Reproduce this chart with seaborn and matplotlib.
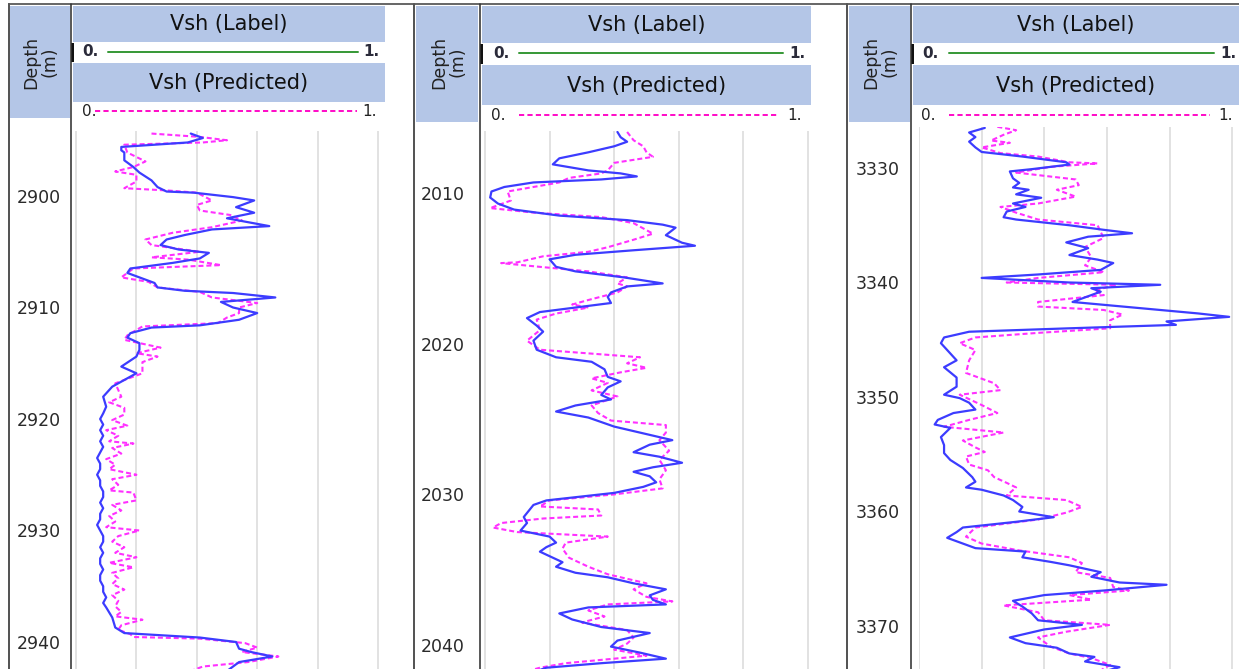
import numpy as np
import pandas as pd
import matplotlib
matplotlib.use("Agg")
import matplotlib.pyplot as plt
import seaborn as sns
from matplotlib.patches import Rectangle

# ---------------- data ----------------
header_label = "Vsh (Label)"
header_pred = "Vsh (Predicted)"
depth_header = "Depth\n(m)"
scale_min_text = "0."
scale_max_text = "1."
grid_values = [0.0, 0.2, 0.4, 0.6, 0.8, 1.0]

well1_ticks = [2900, 2910, 2920, 2930, 2940]
well2_ticks = [2010, 2020, 2030, 2040]
well3_ticks = [3330, 3340, 3350, 3360, 3370]

well1_label_depth = [
    2894.4, 2894.8, 2895.2, 2895.6, 2895.9, 2896.1, 2896.8, 2897.4, 2897.9, 2898.6,
    2899.2, 2899.6, 2899.7, 2900.1, 2900.4, 2901.0, 2901.5, 2902.0, 2902.3, 2902.7,
    2903.0, 2903.5, 2903.9, 2904.4, 2904.8, 2905.1, 2905.6, 2906.0, 2906.5, 2906.9,
    2907.4, 2907.8, 2908.2, 2908.5, 2908.7, 2909.1, 2909.5, 2910.0, 2910.5, 2911.1,
    2911.6, 2911.8, 2912.3, 2912.7, 2913.2, 2913.8, 2914.4, 2915.3, 2915.9, 2916.5,
    2917.1, 2917.4, 2918.0, 2918.9, 2919.5, 2920.0, 2920.5, 2921.0, 2921.5, 2922.0,
    2922.5, 2923.0, 2923.5, 2924.0, 2924.5, 2925.0, 2925.5, 2926.0, 2926.5, 2927.0,
    2927.5, 2928.0, 2928.5, 2929.0, 2929.5, 2930.0, 2930.5, 2931.0, 2931.5, 2932.0,
    2932.5, 2933.0, 2933.5, 2934.0, 2934.5, 2935.0, 2935.5, 2936.0, 2936.5, 2936.9,
    2937.8, 2938.7, 2939.2, 2939.6, 2940.0, 2940.6, 2940.9, 2941.3, 2941.8, 2942.2,
    2942.6]
well1_label_vsh = [
    0.38, 0.42, 0.37, 0.15, 0.15, 0.16, 0.16, 0.19, 0.21, 0.25,
    0.27, 0.30, 0.39, 0.52, 0.59, 0.53, 0.59, 0.50, 0.56, 0.64,
    0.45, 0.36, 0.30, 0.28, 0.34, 0.44, 0.41, 0.32, 0.18, 0.17,
    0.22, 0.26, 0.27, 0.36, 0.52, 0.66, 0.48, 0.52, 0.60, 0.54,
    0.41, 0.25, 0.18, 0.17, 0.21, 0.21, 0.20, 0.15, 0.20, 0.16,
    0.12, 0.11, 0.09, 0.10, 0.09, 0.08, 0.09, 0.08, 0.09, 0.08,
    0.09, 0.08, 0.07, 0.08, 0.08, 0.07, 0.08, 0.08, 0.09, 0.09,
    0.08, 0.09, 0.08, 0.08, 0.07, 0.08, 0.09, 0.09, 0.08, 0.09,
    0.08, 0.08, 0.09, 0.08, 0.08, 0.09, 0.09, 0.10, 0.09, 0.10,
    0.12, 0.13, 0.16, 0.41, 0.53, 0.54, 0.58, 0.65, 0.54, 0.52,
    0.50]

well1_pred_depth = [
    2894.4, 2894.7, 2895.0, 2895.2, 2895.4, 2896.1, 2896.9, 2897.4, 2897.8, 2898.1,
    2898.7, 2899.3, 2899.5, 2899.7, 2900.4, 2900.8, 2901.3, 2901.7, 2902.2, 2902.8,
    2903.3, 2903.9, 2904.4, 2905.0, 2905.5, 2905.7, 2906.2, 2906.5, 2907.3, 2907.7,
    2908.2, 2908.6, 2909.1, 2909.6, 2910.0, 2910.5, 2910.9, 2911.4, 2911.7, 2912.5,
    2912.9, 2913.6, 2914.1, 2914.4, 2914.9, 2915.9, 2916.8, 2918.0, 2918.5, 2919.0,
    2919.6, 2920.1, 2920.6, 2921.0, 2921.5, 2922.0, 2922.2, 2922.6, 2923.1, 2923.6,
    2924.1, 2924.5, 2925.0, 2925.4, 2925.9, 2926.4, 2926.6, 2927.3, 2927.7, 2928.2,
    2928.7, 2929.2, 2929.7, 2930.0, 2930.5, 2931.0, 2931.5, 2932.0, 2932.4, 2932.9,
    2933.3, 2933.8, 2934.3, 2934.8, 2935.3, 2935.8, 2936.3, 2936.8, 2937.3, 2937.7,
    2938.0, 2938.5, 2938.9, 2939.3, 2939.55, 2939.7, 2940.1, 2940.5, 2940.9, 2941.3,
    2941.8, 2942.2, 2942.6]
well1_pred_vsh = [
    0.25, 0.41, 0.50, 0.42, 0.16, 0.17, 0.23, 0.19, 0.13, 0.20,
    0.20, 0.16, 0.30, 0.40, 0.45, 0.40, 0.41, 0.51, 0.55, 0.45,
    0.32, 0.23, 0.25, 0.41, 0.25, 0.37, 0.48, 0.19, 0.15, 0.24,
    0.27, 0.41, 0.45, 0.60, 0.54, 0.54, 0.50, 0.47, 0.22, 0.17,
    0.16, 0.28, 0.20, 0.27, 0.22, 0.22, 0.13, 0.15, 0.11, 0.16,
    0.16, 0.12, 0.17, 0.10, 0.14, 0.11, 0.19, 0.12, 0.15, 0.10,
    0.13, 0.11, 0.20, 0.12, 0.14, 0.11, 0.19, 0.20, 0.12, 0.15,
    0.11, 0.13, 0.10, 0.21, 0.14, 0.12, 0.16, 0.13, 0.20, 0.11,
    0.19, 0.12, 0.14, 0.12, 0.16, 0.12, 0.14, 0.13, 0.15, 0.13,
    0.22, 0.15, 0.14, 0.18, 0.19, 0.41, 0.56, 0.60, 0.55, 0.67,
    0.57, 0.42, 0.38]

well2_label_depth = [
    2005.95, 2006.3, 2006.6, 2006.9, 2007.3, 2007.7, 2008.1, 2008.5, 2008.7, 2008.9,
    2009.1, 2009.3, 2009.6, 2009.9, 2010.3, 2010.7, 2011.1, 2011.5, 2011.8, 2012.1,
    2012.3, 2012.8, 2013.3, 2013.5, 2013.8, 2014.1, 2014.4, 2014.9, 2015.2, 2015.6,
    2016.0, 2016.2, 2016.6, 2016.9, 2017.3, 2017.6, 2017.9, 2018.3, 2018.8, 2019.2,
    2019.8, 2020.4, 2020.9, 2021.2, 2021.7, 2022.2, 2022.5, 2022.9, 2023.4, 2023.7,
    2024.1, 2024.5, 2024.9, 2025.5, 2025.9, 2026.4, 2026.7, 2027.2, 2027.5, 2027.9,
    2028.2, 2028.5, 2028.8, 2029.2, 2029.5, 2029.9, 2030.4, 2030.7, 2031.5, 2031.9,
    2032.4, 2032.8, 2033.2, 2033.5, 2033.8, 2034.2, 2034.5, 2034.8, 2035.2, 2035.5,
    2035.9, 2036.3, 2036.7, 2037.0, 2037.3, 2037.5, 2037.9, 2038.3, 2038.8, 2039.2,
    2039.7, 2040.1, 2040.5, 2040.9, 2041.2, 2041.5, 2041.8]
well2_label_vsh = [
    0.41, 0.42, 0.44, 0.40, 0.32, 0.23, 0.21, 0.32, 0.42, 0.47,
    0.36, 0.15, 0.06, 0.02, 0.016, 0.04, 0.09, 0.23, 0.44, 0.55,
    0.59, 0.56, 0.61, 0.65, 0.46, 0.28, 0.20, 0.22, 0.28, 0.43,
    0.55, 0.44, 0.39, 0.38, 0.39, 0.28, 0.17, 0.13, 0.16, 0.18,
    0.15, 0.16, 0.22, 0.33, 0.37, 0.38, 0.42, 0.38, 0.36, 0.39,
    0.28, 0.22, 0.32, 0.40, 0.48, 0.58, 0.51, 0.46, 0.54, 0.61,
    0.52, 0.46, 0.51, 0.53, 0.49, 0.40, 0.19, 0.15, 0.12, 0.13,
    0.11, 0.20, 0.22, 0.19, 0.17, 0.21, 0.24, 0.22, 0.28, 0.38,
    0.46, 0.56, 0.51, 0.52, 0.56, 0.32, 0.23, 0.27, 0.36, 0.51,
    0.41, 0.39, 0.48, 0.56, 0.36, 0.19, 0.15]

well2_pred_depth = [
    2005.95, 2006.5, 2006.9, 2007.3, 2007.6, 2007.8, 2008.0, 2008.5, 2008.7, 2009.0,
    2009.3, 2009.6, 2009.9, 2010.5, 2011.0, 2011.3, 2011.6, 2012.0, 2012.7, 2013.1,
    2013.6, 2013.9, 2014.2, 2014.6, 2014.65, 2014.9, 2015.2, 2015.6, 2016.0, 2016.2,
    2016.6, 2017.1, 2017.4, 2017.6, 2018.0, 2018.4, 2019.1, 2019.8, 2020.4, 2020.9,
    2021.3, 2021.6, 2021.9, 2022.3, 2022.6, 2023.1, 2023.5, 2024.1, 2024.6, 2025.1,
    2025.4, 2025.9, 2026.4, 2027.1, 2027.7, 2028.4, 2029.0, 2029.6, 2030.0, 2030.4,
    2030.8, 2031.0, 2031.4, 2031.6, 2031.9, 2032.2, 2032.5, 2032.8, 2033.2, 2033.6,
    2034.2, 2034.8, 2035.3, 2035.9, 2036.3, 2036.8, 2037.1, 2037.3, 2037.7, 2038.1,
    2038.5, 2039.0, 2039.5, 2039.9, 2040.3, 2040.7, 2041.2, 2041.5, 2041.8]
well2_pred_vsh = [
    0.44, 0.46, 0.49, 0.50, 0.52, 0.46, 0.40, 0.38, 0.36, 0.26,
    0.23, 0.15, 0.07, 0.08, 0.016, 0.15, 0.36, 0.46, 0.52, 0.46,
    0.38, 0.32, 0.18, 0.10, 0.05, 0.17, 0.32, 0.44, 0.41, 0.44,
    0.41, 0.32, 0.27, 0.32, 0.22, 0.16, 0.17, 0.13, 0.17, 0.48,
    0.44, 0.50, 0.42, 0.33, 0.38, 0.33, 0.41, 0.33, 0.35, 0.39,
    0.56, 0.56, 0.54, 0.57, 0.54, 0.56, 0.54, 0.55, 0.40, 0.20,
    0.17, 0.35, 0.36, 0.18, 0.05, 0.025, 0.10, 0.38, 0.25, 0.24,
    0.26, 0.32, 0.38, 0.50, 0.46, 0.50, 0.58, 0.38, 0.32, 0.37,
    0.30, 0.44, 0.46, 0.44, 0.40, 0.50, 0.25, 0.17, 0.12]

well3_label_depth = [
    3326.5, 3326.9, 3327.3, 3327.7, 3328.2, 3328.6, 3329.0, 3329.5, 3329.7, 3330.1,
    3330.3, 3330.9, 3331.3, 3331.7, 3331.9, 3332.3, 3332.6, 3333.1, 3333.4, 3333.8,
    3334.3, 3334.5, 3335.0, 3335.4, 3335.7, 3336.0, 3336.5, 3337.0, 3337.6, 3338.0,
    3338.3, 3338.9, 3339.3, 3339.6, 3340.0, 3340.2, 3340.5, 3340.8, 3341.3, 3341.7,
    3342.2, 3342.7, 3343.0, 3343.4, 3343.7, 3344.0, 3344.3, 3344.8, 3345.3, 3345.9,
    3346.8, 3347.4, 3348.3, 3349.1, 3349.8, 3350.1, 3350.5, 3351.1, 3351.4, 3352.0,
    3352.4, 3352.7, 3353.5, 3354.2, 3354.9, 3355.5, 3356.2, 3357.0, 3357.4, 3357.9,
    3358.1, 3358.6, 3359.0, 3359.6, 3360.0, 3360.5, 3360.9, 3361.4, 3361.8, 3362.3,
    3362.8, 3363.2, 3363.5, 3364.0, 3364.4, 3364.7, 3365.3, 3365.7, 3366.2, 3366.4,
    3366.9, 3367.3, 3367.8, 3368.3, 3368.9, 3369.5, 3369.9, 3370.3, 3371.0, 3371.5,
    3371.9, 3372.4, 3372.7, 3373.1, 3373.6, 3373.9]
well3_label_vsh = [
    0.21, 0.16, 0.18, 0.16, 0.18, 0.20, 0.33, 0.47, 0.48, 0.36,
    0.29, 0.30, 0.32, 0.30, 0.35, 0.31, 0.39, 0.30, 0.34, 0.28,
    0.27, 0.31, 0.48, 0.59, 0.68, 0.54, 0.47, 0.54, 0.48, 0.57,
    0.62, 0.58, 0.38, 0.20, 0.48, 0.77, 0.55, 0.58, 0.53, 0.49,
    0.69, 0.89, 0.99, 0.79, 0.82, 0.48, 0.16, 0.08, 0.07, 0.09,
    0.12, 0.08, 0.12, 0.12, 0.08, 0.13, 0.16, 0.18, 0.11, 0.06,
    0.05, 0.10, 0.07, 0.08, 0.08, 0.10, 0.14, 0.17, 0.18, 0.15,
    0.20, 0.27, 0.30, 0.33, 0.32, 0.43, 0.31, 0.14, 0.12, 0.09,
    0.14, 0.18, 0.34, 0.33, 0.42, 0.48, 0.58, 0.55, 0.64, 0.79,
    0.59, 0.40, 0.30, 0.33, 0.36, 0.38, 0.52, 0.40, 0.29, 0.34,
    0.44, 0.48, 0.56, 0.53, 0.64, 0.60]

well3_pred_depth = [
    3326.4, 3326.7, 3327.1, 3327.6, 3327.8, 3328.2, 3328.7, 3329.0, 3329.5, 3329.6,
    3329.9, 3330.4, 3331.0, 3331.5, 3331.9, 3332.5, 3333.1, 3333.4, 3333.9, 3334.5,
    3335.0, 3335.6, 3336.1, 3336.9, 3337.8, 3338.5, 3339.1, 3339.6, 3340.0, 3340.2,
    3340.7, 3341.1, 3341.7, 3342.1, 3342.4, 3342.8, 3343.3, 3344.0, 3344.4, 3344.8,
    3345.3, 3345.9, 3346.8, 3347.9, 3348.8, 3349.4, 3349.8, 3350.7, 3351.4, 3352.0,
    3352.6, 3353.1, 3353.8, 3354.4, 3354.8, 3355.2, 3355.9, 3356.4, 3357.0, 3357.5,
    3357.9, 3358.6, 3359.0, 3359.6, 3360.1, 3360.7, 3361.4, 3362.2, 3362.8, 3363.4,
    3364.0, 3364.5, 3365.3, 3365.8, 3366.6, 3366.9, 3367.3, 3367.7, 3368.2, 3368.8,
    3369.5, 3369.9, 3370.5, 3371.0, 3371.8, 3372.4, 3372.8, 3373.4, 3373.7, 3373.9]
well3_pred_vsh = [
    0.25, 0.31, 0.27, 0.23, 0.29, 0.20, 0.26, 0.38, 0.48, 0.57,
    0.42, 0.31, 0.50, 0.51, 0.44, 0.50, 0.38, 0.26, 0.31, 0.38,
    0.57, 0.58, 0.59, 0.53, 0.55, 0.53, 0.59, 0.38, 0.28, 0.63,
    0.56, 0.59, 0.38, 0.38, 0.59, 0.65, 0.61, 0.61, 0.38, 0.18,
    0.13, 0.18, 0.16, 0.15, 0.24, 0.26, 0.13, 0.20, 0.25, 0.16,
    0.08, 0.27, 0.14, 0.18, 0.21, 0.15, 0.16, 0.22, 0.24, 0.28,
    0.31, 0.28, 0.47, 0.52, 0.47, 0.38, 0.18, 0.15, 0.20, 0.32,
    0.48, 0.52, 0.50, 0.61, 0.62, 0.67, 0.48, 0.55, 0.27, 0.38,
    0.40, 0.61, 0.47, 0.38, 0.42, 0.48, 0.55, 0.61, 0.59, 0.58]

# ---------------- style ----------------
sns.set_theme(style="white")
plt.rcParams["font.family"] = ["DejaVu Sans"]

W, H = 1239, 669
BOX = "#b4c6e7"
BLUE = "#3c3cff"
MAG_CURVE = "#ff30ff"
MAG_HEAD = "#ff10c8"
GREEN = "#3a9a3a"
GRID = "#dcdcdc"
TXT = "#222222"
PX = 0.72  # points per pixel

fig = plt.figure(figsize=(W / 100, H / 100), dpi=100)
fig.patch.set_facecolor("white")

ov = fig.add_axes([0, 0, 1, 1])
ov.set_xlim(0, W)
ov.set_ylim(H, 0)
ov.axis("off")


def fig_rect(x0, y0, x1, y1):
    return [x0 / W, 1 - y1 / H, (x1 - x0) / W, (y1 - y0) / H]


# top border line
ov.plot([8, W], [4, 4], color="#444444", lw=1.6 * PX, solid_capstyle="butt")

panels = [
    dict(border=8.5, sep=71, dbox=(9.5, 5.5, 69.5, 118), hx0=73, hx1=385,
         lab=(5.5, 42), pred=(63, 102), gy=52, gx=(108, 358), g0=82, g1=379,
         my=111, mx=(95, 357), m0=82, m1=377,
         track=(73, 131, 385, 669), v0px=76, vscale=302.0,
         dtop=(131, 196, 2900, 11.15),
         lab_pad=12,
         ld=well1_label_depth, lv=well1_label_vsh,
         pd_=well1_pred_depth, pv=well1_pred_vsh, ticks=well1_ticks),
    dict(border=414, sep=480, dbox=(416, 5.5, 478, 122), hx0=482, hx1=811,
         lab=(5.5, 43), pred=(65, 105), gy=53, gx=(519, 783), g0=493, g1=805,
         my=115, mx=(519, 779), m0=491, m1=802,
         track=(482, 131, 811, 669), v0px=485, vscale=323.0,
         dtop=(131, 193, 2010, 15.07),
         lab_pad=17,
         ld=well2_label_depth, lv=well2_label_vsh,
         pd_=well2_pred_depth, pv=well2_pred_vsh, ticks=well2_ticks),
    dict(border=847, sep=911, dbox=(849, 5.5, 910, 122), hx0=913, hx1=1239,
         lab=(5.5, 43), pred=(65, 105), gy=53, gx=(949, 1214), g0=922, g1=1236,
         my=115, mx=(949, 1210), m0=921, m1=1233,
         track=(919, 127, 1239, 669), v0px=904.5, vscale=327.5,
         dtop=(127, 168, 3330, 11.45),
         lab_pad=19,
         ld=well3_label_depth, lv=well3_label_vsh,
         pd_=well3_pred_depth, pv=well3_pred_vsh, ticks=well3_ticks),
]

for p in panels:
    # borders
    ov.plot([p["border"], p["border"]], [4, H], color="#555555", lw=2 * PX)
    ov.plot([p["sep"], p["sep"]], [4, H], color="#333333", lw=1.6 * PX)
    # depth header box
    x0, y0, x1, y1 = p["dbox"]
    ov.add_patch(Rectangle((x0, y0), x1 - x0, y1 - y0, color=BOX, lw=0))
    ov.text((x0 + x1) / 2 + 1, 62, depth_header, rotation=90, ha="center",
            va="center", fontsize=12.5, color=TXT, linespacing=1.0,
            multialignment="center")
    # header boxes
    hx0, hx1 = p["hx0"], p["hx1"]
    ly0, ly1 = p["lab"]
    ov.add_patch(Rectangle((hx0, ly0), hx1 - hx0, ly1 - ly0, color=BOX, lw=0))
    ov.text((hx0 + hx1) / 2, (ly0 + ly1) / 2 + 0.5, header_label, ha="center",
            va="center", fontsize=15, color="#111111")
    py0, py1 = p["pred"]
    ov.add_patch(Rectangle((hx0, py0), hx1 - hx0, py1 - py0, color=BOX, lw=0))
    ov.text((hx0 + hx1) / 2, (py0 + py1) / 2 + 1, header_pred, ha="center",
            va="center", fontsize=15, color="#111111")
    # black marker in label scale row
    ov.add_patch(Rectangle((p["sep"], ly1 + 1), 2.5, py0 - ly1 - 2,
                           color="#111111", lw=0))
    # label scale row
    ov.plot(list(p["gx"]), [p["gy"], p["gy"]], color=GREEN, lw=2 * PX)
    ov.text(p["g0"], p["gy"], scale_min_text, ha="left", va="center",
            fontsize=11, color="#2b2b3a", fontweight="bold")
    ov.text(p["g1"], p["gy"], scale_max_text, ha="right", va="center",
            fontsize=11, color="#2b2b3a", fontweight="bold")
    # predicted scale row
    ov.plot(list(p["mx"]), [p["my"], p["my"]], color=MAG_HEAD, lw=2 * PX,
            linestyle=(0, (2.6, 1.6)))
    ov.text(p["m0"], p["my"], scale_min_text, ha="left", va="center",
            fontsize=11, color=TXT)
    ov.text(p["m1"], p["my"], scale_max_text, ha="right", va="center",
            fontsize=11, color=TXT)

    # track axes
    tx0, ty0, tx1, ty1 = p["track"]
    ax = fig.add_axes(fig_rect(tx0, ty0, tx1, ty1))
    ax.set_facecolor("white")
    v0, vs = p["v0px"], p["vscale"]
    ax.set_xlim((tx0 - v0) / vs, (tx1 - v0) / vs)
    ref_py, ref_py_d, ref_d, ppm = p["dtop"]
    d_top = ref_d - (ref_py_d - ty0) / ppm
    d_bot = ref_d + (ty1 - ref_py_d) / ppm
    ax.set_ylim(d_bot, d_top)

    sns.lineplot(x=p["pv"], y=p["pd_"], sort=False, estimator=None, ax=ax,
                 color=MAG_CURVE, lw=1.5, linestyle=(0, (2.4, 1.4)), zorder=3)
    sns.lineplot(x=p["lv"], y=p["ld"], sort=False, estimator=None, ax=ax,
                 color=BLUE, lw=1.6, zorder=4)

    ax.set_xticks(grid_values)
    ax.set_xticklabels([])
    ax.set_yticks(p["ticks"])
    ax.set_yticklabels([str(t) for t in p["ticks"]])
    ax.tick_params(axis="both", length=0)
    ax.tick_params(axis="y", pad=p["lab_pad"] * PX, labelsize=12.5,
                   labelcolor="#2a2a2a")
    ax.grid(axis="x", color=GRID, lw=1.6 * PX)
    ax.grid(axis="y", visible=False)
    ax.set_axisbelow(True)
    for s in ax.spines.values():
        s.set_visible(False)
    ax.set_xlabel("")
    ax.set_ylabel("")

    # faint shading at top of track
    for i, a in enumerate([0.10, 0.07, 0.045, 0.025, 0.01]):
        ov.add_patch(Rectangle((tx0, ty0 + i), tx1 - tx0, 1.2, color="#000000",
                               alpha=a, lw=0, zorder=5))

fig.savefig("out.png", dpi=100, facecolor="white")
